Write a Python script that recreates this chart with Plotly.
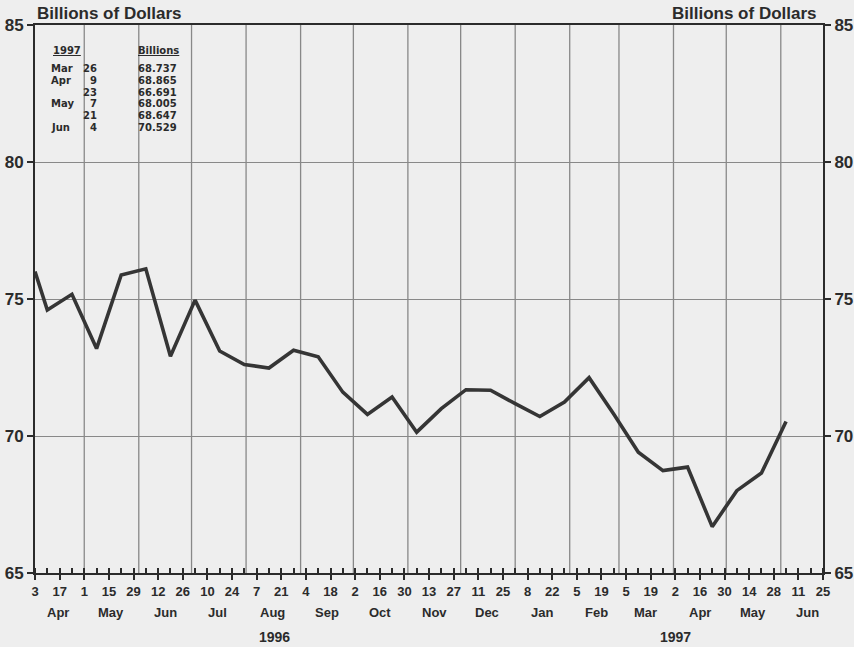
import pandas as pd
import plotly.graph_objects as go

# biweekly observations (Wednesdays), billions of dollars
DATES = [
    "1996-04-03", "1996-04-10", "1996-04-24", "1996-05-08", "1996-05-22",
    "1996-06-05", "1996-06-19", "1996-07-03", "1996-07-17", "1996-07-31",
    "1996-08-14", "1996-08-28", "1996-09-11", "1996-09-25", "1996-10-09",
    "1996-10-23", "1996-11-06", "1996-11-20", "1996-12-04", "1996-12-18",
    "1997-01-01", "1997-01-15", "1997-01-29", "1997-02-12", "1997-02-26",
    "1997-03-12", "1997-03-26", "1997-04-09", "1997-04-23", "1997-05-07",
    "1997-05-21", "1997-06-04",
]
VALUES = [
    76.0, 74.6, 75.17, 73.19, 75.88,
    76.1, 72.91, 74.96, 73.1, 72.61,
    72.48, 73.13, 72.89, 71.6, 70.79,
    71.42, 70.14, 71.0, 71.69, 71.67,
    71.18, 70.71, 71.24, 72.13, 70.8,
    69.41, 68.737, 68.865, 66.691, 68.005,
    68.647, 70.529,
]

TICK_DAYS = ["3", "17", "1", "15", "29", "12", "26", "10", "24", "7", "21",
             "4", "18", "2", "16", "30", "13", "27", "11", "25", "8", "22",
             "5", "19", "5", "19", "2", "16", "30", "14", "28", "11", "25"]
MONTHS = ["Apr", "May", "Jun", "Jul", "Aug", "Sep", "Oct", "Nov", "Dec",
          "Jan", "Feb", "Mar", "Apr", "May", "Jun"]
YEARS = ["1996", "1997"]
YEAR_POS = ["1996-08-17", "1997-04-02"]

# inset table = last six observations
TABLE_MONTHS = ["Mar", "Apr", "", "May", "", "Jun"]
TABLE_DATES = DATES[-6:]
TABLE_VALUES = VALUES[-6:]

X_START, X_END = "1996-04-03", "1997-06-25"

W, H = 854, 647
L, R, T, B = 35, 31, 25, 74
INK = "#2b2b2b"
GRID = "#888888"
BG = "#eeeeee"
FONT = "Liberation Sans, Arial, sans-serif"
TFONT = "DejaVu Sans, sans-serif"
NARROW = "Liberation Sans Narrow, Liberation Sans, sans-serif"


def fx(x):
    return (x - L) / (W - L - R)


def fy(y):
    return 1 - (y - T) / (H - T - B)


tick_pos = pd.date_range(X_START, periods=len(TICK_DAYS), freq="14D")
month_starts = pd.date_range("1996-04-01", periods=len(MONTHS), freq="MS")
grid_pos = month_starts[1:]

fig = go.Figure()
fig.add_trace(go.Scatter(
    x=DATES, y=VALUES, mode="lines",
    line=dict(color="#353535", width=3.6),
    showlegend=False, hoverinfo="x+y",
))
# keeps the right-hand axis alive
fig.add_trace(go.Scatter(
    x=DATES, y=VALUES, yaxis="y2", mode="lines",
    line=dict(width=0), opacity=0, showlegend=False, hoverinfo="skip",
))

shapes = []
for d in grid_pos:
    shapes.append(dict(type="line", xref="x", yref="paper", x0=d, x1=d, y0=0, y1=1,
                       line=dict(color=GRID, width=1.3), layer="below"))

ann = []
bold = dict(family=FONT, size=13, color=INK)
tbl = dict(family=TFONT, size=10, color=INK)
for x, anchor in ((35, "left"), (819, "right")):
    ann.append(dict(text="<b>Billions of Dollars</b>", xref="paper", yref="paper",
                    x=fx(x), y=fy(14), xanchor=anchor, yanchor="middle", showarrow=False,
                    font=dict(family=FONT, size=17, color=INK)))

for m, d in zip(MONTHS, month_starts):
    ann.append(dict(text=f"<b>{m}</b>", xref="x", yref="paper",
                    x=d + pd.Timedelta(days=15), y=fy(612), xanchor="center",
                    yanchor="middle", showarrow=False, font=bold))
for yr, p in zip(YEARS, YEAR_POS):
    ann.append(dict(text=f"<b>{yr}</b>", xref="x", yref="paper", x=p, y=fy(637),
                    xanchor="center", yanchor="middle", showarrow=False,
                    font=dict(family=FONT, size=14, color=INK)))

# inset table
ann.append(dict(text="<b><u>1997</u></b>", xref="paper", yref="paper", x=fx(51), y=fy(50),
                xanchor="left", yanchor="middle", showarrow=False, font=tbl))
ann.append(dict(text="<b><u>Billions</u></b>", xref="paper", yref="paper", x=fx(136), y=fy(50),
                xanchor="left", yanchor="middle", showarrow=False, font=tbl))
for i, (m, d, v) in enumerate(zip(TABLE_MONTHS, TABLE_DATES, TABLE_VALUES)):
    yy = fy(68.5 + i * 11.8)
    if m:
        ann.append(dict(text=f"<b>{m}</b>", xref="paper", yref="paper", x=fx(49), y=yy,
                        xanchor="left", yanchor="middle", showarrow=False, font=tbl))
    ann.append(dict(text=f"<b>{pd.Timestamp(d).day}</b>", xref="paper", yref="paper",
                    x=fx(99), y=yy, xanchor="right", yanchor="middle",
                    showarrow=False, font=tbl))
    ann.append(dict(text=f"<b>{v:.3f}</b>", xref="paper", yref="paper", x=fx(136), y=yy,
                    xanchor="left", yanchor="middle", showarrow=False, font=tbl))

yax = dict(range=[65, 85], dtick=5, tick0=65, ticks="outside", ticklen=6, tickwidth=1.5,
           tickcolor=INK, showline=True, linewidth=2, linecolor=INK, zeroline=False,
           automargin=False,
           tickfont=dict(family=NARROW, size=17, color=INK, weight="bold"))

fig.update_layout(
    width=W, height=H,
    paper_bgcolor=BG, plot_bgcolor=BG,
    margin=dict(l=L, r=R, t=T, b=B),
    showlegend=False,
    shapes=shapes,
    annotations=ann,
    xaxis=dict(
        type="date", range=[X_START, X_END], automargin=False,
        tickvals=list(tick_pos), ticktext=[f"<b>{t}</b>" for t in TICK_DAYS],
        ticks="outside", ticklen=5, tickwidth=1.5, tickcolor=INK,
        tickfont=dict(family=FONT, size=13, color=INK),
        showgrid=False, showline=True, linewidth=2, linecolor=INK, mirror=True,
        minor=dict(dtick=7 * 86400000, tick0="1996-04-10", ticks="inside",
                   ticklen=5, tickwidth=1.5, tickcolor=INK, showgrid=False),
    ),
    yaxis=dict(**yax, side="left", showgrid=True, gridcolor=GRID, gridwidth=1.3,
               tickformat="d"),
    yaxis2=dict(**yax, side="right", overlaying="y", showgrid=False),
)

fig.write_html(
    "out.html",
    config={"displayModeBar": False},
    post_script="document.body.style.margin='0';"
                "document.body.style.overflow='hidden';"
                f"document.body.style.background='{BG}';",
)
